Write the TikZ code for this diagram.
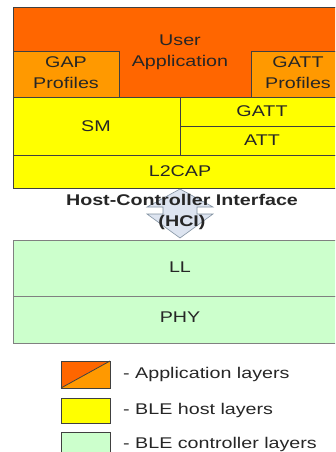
\documentclass[tikz,border=0pt]{standalone}
\usepackage{fontspec}
\setmainfont{Liberation Sans}[FakeStretch=1.27]
\definecolor{appdark}{HTML}{FF6600}
\definecolor{applight}{HTML}{FF9900}
\definecolor{hostyel}{HTML}{FFFF00}
\definecolor{ctrlgreen}{HTML}{CCFFCC}
\definecolor{edgegray}{HTML}{404040}
\definecolor{hcifill}{HTML}{DDE4F0}
\definecolor{hciedge}{HTML}{8090A0}
\begin{document}
\begin{tikzpicture}[x=1pt,y=-1pt,
  layer/.style={draw=edgegray,line width=0.8pt},
  lbl/.style={font=\fontsize{15.5}{17}\selectfont,inner sep=0pt,text=black!85},
  lbltwo/.style={lbl,align=center,font=\fontsize{15.5}{21}\selectfont}]
\useasboundingbox (0,0) rectangle (335,452);
\begin{scope}
\clip (0,0) rectangle (335,452);
% application
\path[layer,fill=appdark] (13,7.5) rectangle (347,97);
\path[layer,fill=applight] (13,51) rectangle (119,97);
\path[layer,fill=applight] (251,51) rectangle (347,97);
% host
\path[layer,fill=hostyel] (13,97) rectangle (180,155);
\path[layer,fill=hostyel] (180,97) rectangle (347,126);
\path[layer,fill=hostyel] (180,126) rectangle (347,155);
\path[layer,fill=hostyel] (13,155) rectangle (347,188);
% controller
\path[layer,fill=ctrlgreen,draw=gray] (13,240) rectangle (347,296);
\path[layer,fill=ctrlgreen,draw=gray] (13,296) rectangle (347,343);
% legend
\path[fill=appdark] (61,361) -- (110,361) -- (61,388) -- cycle;
\path[fill=applight] (110,361) -- (110,388) -- (61,388) -- cycle;
\draw[edgegray,line width=0.8pt] (61,388) -- (110,361);
\path[layer] (61,361) rectangle (110,388);
\path[layer,fill=hostyel] (61,398) rectangle (110,423);
\path[layer,fill=ctrlgreen] (61,432) rectangle (110,462);
\end{scope}
% HCI double arrow
\path[draw=hciedge,fill=hcifill,line width=0.6pt]
  (180,189) -- (213,207) -- (197,207) -- (197,214) -- (213,214) -- (180,238)
  -- (147,214) -- (163,214) -- (163,207) -- (147,207) -- cycle;
% labels
\node[lbltwo] (user) at (180,52) {User\\Application};
\node[lbltwo] (gap) at (66,73) {GAP\\Profiles};
\node[lbltwo] (gattp) at (298,73) {GATT\\Profiles};
\node[lbl] (sm) at (96,126) {SM};
\node[lbl] (gatt) at (262,111) {GATT};
\node[lbl] (att) at (262,140) {ATT};
\node[lbl] (l2cap) at (180,171) {L2CAP};
\node[lbltwo,font=\bfseries\fontsize{15.5}{21}\selectfont] (hci) at (182,212) {Host-Controller Interface\\(HCI)};
\node[lbl] (ll) at (180,267) {LL};
\node[lbl] (phy) at (180,317) {PHY};
\node[lbl,anchor=west] (la) at (123,374) {- Application layers};
\node[lbl,anchor=west] (lh) at (123,410) {- BLE host layers};
\node[lbl,anchor=west] (lc) at (123,444) {- BLE controller layers};
\end{tikzpicture}
\end{document}
